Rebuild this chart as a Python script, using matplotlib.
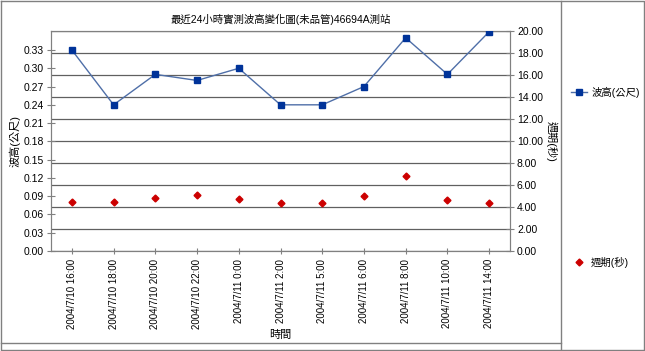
import numpy as np
import matplotlib
matplotlib.use('Agg')
from matplotlib import pyplot as plt
from matplotlib.lines import Line2D

plt.rcParams['font.family'] = ['Liberation Sans', 'Noto Sans CJK TC', 'DejaVu Sans']

# data
times = ['2004/7/10 16:00', '2004/7/10 18:00', '2004/7/10 20:00', '2004/7/10 22:00',
         '2004/7/11 0:00', '2004/7/11 2:00', '2004/7/11 5:00', '2004/7/11 6:00',
         '2004/7/11 8:00', '2004/7/11 10:00', '2004/7/11 14:00']
wave_height = [0.33, 0.24, 0.29, 0.28, 0.30, 0.24, 0.24, 0.27, 0.35, 0.29, 0.36]
wave_period = [4.5, 4.5, 4.8, 5.1, 4.7, 4.4, 4.4, 5.0, 6.8, 4.6, 4.4]

W, H = 645, 351
fig = plt.figure(figsize=(W/100, H/100), dpi=100)

# plot area in pixel coords
x0, x1, y0, y1 = 51, 510, 31, 251
ax = fig.add_axes([x0/W, 1-y1/H, (x1-x0)/W, (y1-y0)/H])
ax2 = ax.twinx()

xs = np.arange(len(times))
blue = '#003399'
red = '#cc0000'
ax.plot(xs, wave_height, color='#4f6fa8', lw=1, marker='s', ms=4,
        mfc=blue, mec=blue, zorder=5)
ax2.plot(xs, wave_period, ls='none', marker='D', ms=3.5, mfc=red, mec=red, zorder=5)

ax.set_xlim(-0.5, len(times)-0.5)
ax.set_ylim(0, 0.3612)
ax2.set_ylim(0, 20)
ax.set_yticks(np.arange(0, 0.34, 0.03))
ax.set_yticklabels(['{:.2f}'.format(v) for v in np.arange(0, 0.34, 0.03)])
ax2.set_yticks(np.arange(0, 20.1, 2))
ax2.set_yticklabels(['{:.2f}'.format(v) for v in np.arange(0, 20.1, 2)])
ax.set_xticks(xs)
ax.set_xticklabels(times, rotation=90)

# gridlines follow the right axis
ax2.grid(axis='y', color='#606060', lw=0.9)
ax2.set_axisbelow(True)
ax.set_zorder(ax2.get_zorder()+1)
ax.patch.set_visible(False)

for a in (ax, ax2):
    for s in a.spines.values():
        s.set_color('#808080')
    a.tick_params(labelsize=7.5, color='#808080', length=4, pad=2)
ax.tick_params(axis='x', direction='inout', length=5, labelsize=7, pad=3)
ax.tick_params(axis='y', direction='inout', length=6)
ax2.tick_params(axis='y', direction='inout', length=6)

ax.set_ylabel('波高(公尺)', fontsize=8, labelpad=2)
ax2.set_ylabel('週期(秒)', fontsize=8, rotation=-90, labelpad=10)
ax.set_xlabel('時間', fontsize=8, labelpad=1)
ax.set_title('最近24小時實測波高變化圖(未品管)46694A測站', fontsize=7.5, pad=6)

# outer frame and legend divider
frame = fig.add_axes([0, 0, 1, 1], zorder=-10)
frame.set_xlim(0, W)
frame.set_ylim(H, 0)
frame.axis('off')
frame.plot([1, W-1, W-1, 1, 1], [1, 1, H-1, H-1, 1], color='#808080', lw=1)
frame.plot([561, 561], [1, H-1], color='#808080', lw=1)
frame.plot([1, 561], [343, 343], color='#808080', lw=1)

# legend entries drawn as handles
leg1 = fig.legend(handles=[Line2D([], [], color='#4f6fa8', lw=1, marker='s', ms=4, mfc=blue, mec=blue)],
                  labels=['波高(公尺)'], loc='center left', bbox_to_anchor=(562/W, 1-92/H),
                  frameon=False, fontsize=7.5, handlelength=1.5, handletextpad=0.4)
leg2 = fig.legend(handles=[Line2D([], [], ls='none', marker='D', ms=3.5, mfc=red, mec=red)],
                  labels=['週期(秒)'], loc='center left', bbox_to_anchor=(562/W, 1-262/H),
                  frameon=False, fontsize=7.5, handlelength=1.5, handletextpad=0.4)

fig.savefig('out.png', dpi=100)
plt.close(fig)
